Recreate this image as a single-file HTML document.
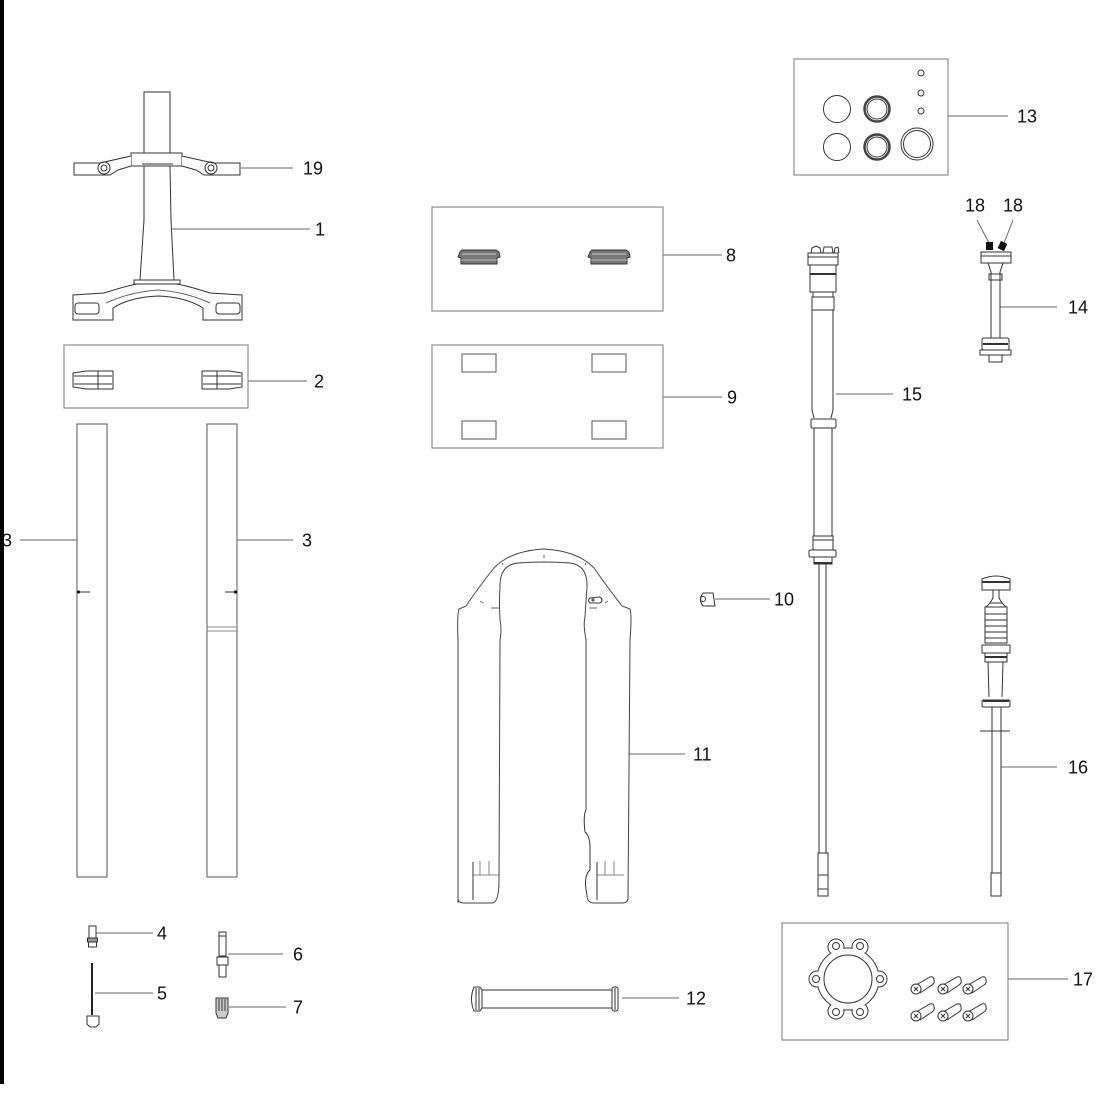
<!DOCTYPE html>
<html><head><meta charset="utf-8"><style>
html,body{margin:0;padding:0;background:#fff;}
svg{display:block;}
text{font-family:"Liberation Sans",Arial,sans-serif;font-size:18px;fill:#111;}
</style></head><body>
<svg width="1099" height="1099" viewBox="0 0 1099 1099" xmlns="http://www.w3.org/2000/svg">
<rect x="0" y="0" width="1099" height="1099" fill="#fff"/>
<rect x="0" y="0" width="4" height="1084" fill="#000"/>

<!-- leaders -->
<g stroke="#666" stroke-width="1" fill="none">
<line x1="241" y1="168" x2="293" y2="168"/>
<line x1="172" y1="229" x2="310" y2="229"/>
<line x1="248" y1="381" x2="307" y2="381"/>
<line x1="20" y1="540" x2="77" y2="540"/>
<line x1="237" y1="540" x2="293" y2="540"/>
<line x1="96" y1="933" x2="153" y2="933"/>
<line x1="95" y1="993" x2="153" y2="993"/>
<line x1="228" y1="954" x2="283" y2="954"/>
<line x1="229" y1="1007" x2="286" y2="1007"/>
<line x1="663" y1="255" x2="722" y2="255"/>
<line x1="663" y1="397" x2="722" y2="397"/>
<line x1="715" y1="599" x2="770" y2="599"/>
<line x1="629" y1="754" x2="685" y2="754"/>
<line x1="622" y1="998" x2="679" y2="998"/>
<line x1="948" y1="116" x2="1008" y2="116"/>
<line x1="1000" y1="307" x2="1057" y2="307"/>
<line x1="977" y1="220" x2="989" y2="243"/>
<line x1="1013" y1="220" x2="1004" y2="243"/>
<line x1="836" y1="394" x2="893" y2="394"/>
<line x1="1001" y1="767" x2="1057" y2="767"/>
<line x1="1008" y1="979" x2="1068" y2="979"/>
</g>

<!-- labels -->
<g>
<text x="303" y="174.5">19</text>
<text x="315" y="235.5">1</text>
<text x="314" y="387.5">2</text>
<text x="2" y="546.5">3</text>
<text x="302" y="546.5">3</text>
<text x="157" y="939.5">4</text>
<text x="157" y="999.5">5</text>
<text x="293" y="960.5">6</text>
<text x="293" y="1013.5">7</text>
<text x="726" y="261.5">8</text>
<text x="727" y="403.5">9</text>
<text x="774" y="605.5">10</text>
<text x="693" y="760.5">11</text>
<text x="686" y="1004.5">12</text>
<text x="1017" y="122.5">13</text>
<text x="1068" y="313.5">14</text>
<text x="965" y="211.5">18</text>
<text x="1003" y="211.5">18</text>
<text x="902" y="400.5">15</text>
<text x="1068" y="773.5">16</text>
<text x="1073" y="985.5">17</text>
</g>

<g stroke="#333" stroke-width="1" fill="none">
<!-- Part 1 -->
<rect x="144" y="92" width="26" height="61"/>
<path d="M131,153 L182,153 L182,166 L131,166 Z" fill="#fff"/>
<line x1="142" y1="164" x2="173" y2="164"/>
<path d="M131,156 L100,163 L74,163 L74,175 L110,175 L118,170 L131,166" fill="#fff"/>
<path d="M182,156 L213,163 L240,163 L240,175 L204,175 L196,170 L182,166" fill="#fff"/>
<circle cx="104" cy="168" r="6"/><circle cx="104" cy="168" r="3"/>
<circle cx="211" cy="168" r="6"/><circle cx="211" cy="168" r="3"/>
<path d="M144,166 L144,220 L140,280"/>
<path d="M170,166 L171,220 L174,280"/>
<rect x="134" y="280" width="46" height="4"/>
<path d="M73,295 L73,320 L113,320 L113,308 Q130,297 158,296 Q186,297 203,308 L203,320 L242,320 L242,295 L210,293 Q185,285 176,284 L138,284 Q129,285 104,293 Z" fill="#fff"/>
<path d="M106,303 Q130,292 158,290 Q186,292 210,303" stroke="#666"/>
<rect x="75" y="303" width="24" height="11" rx="3"/>
<rect x="216" y="303" width="24" height="11" rx="3"/>

<!-- Part 2 -->
<rect x="64" y="345" width="184" height="63" stroke="#777"/>
<path d="M73,373 L86,371 L113,371 L113,389 L86,389 L73,387 Z"/>
<line x1="74" y1="376" x2="112" y2="376"/><line x1="74" y1="384" x2="112" y2="384"/>
<line x1="98" y1="371" x2="98" y2="389"/>
<path d="M242,373 L229,371 L202,371 L202,389 L229,389 L242,387 Z"/>
<line x1="203" y1="376" x2="241" y2="376"/><line x1="203" y1="384" x2="241" y2="384"/>
<line x1="217" y1="371" x2="217" y2="389"/>

<!-- Part 3 -->
<rect x="77" y="424" width="30" height="453" stroke="#555"/>
<rect x="207" y="424" width="30" height="453" stroke="#555"/>
<line x1="207" y1="627" x2="237" y2="627" stroke="#888"/>
<line x1="207" y1="631" x2="237" y2="631" stroke="#888"/>
<line x1="78" y1="592" x2="90" y2="592"/>
<line x1="225" y1="592" x2="236" y2="592"/>
</g>
<circle cx="78.5" cy="592" r="1.5" fill="#000"/>
<circle cx="235.5" cy="592" r="1.5" fill="#000"/>

<g stroke="#333" stroke-width="1" fill="none">
<!-- Part 4 -->
<rect x="89" y="926" width="7" height="12"/>
<rect x="87.5" y="938" width="10" height="4" fill="#999"/>
<rect x="88.5" y="942" width="8" height="5"/>
<!-- Part 5 -->
<line x1="92" y1="963" x2="92" y2="1015" stroke="#222" stroke-width="2"/>
<path d="M87,1016 L99,1016 L99,1024 L96,1027 L90,1027 L87,1024 Z"/>
<!-- Part 6 -->
<rect x="219" y="932" width="7" height="4"/>
<rect x="219" y="936" width="7" height="20"/>
<rect x="217" y="957" width="11" height="8"/>
<rect x="219" y="965" width="7" height="12"/>
<!-- Part 7 -->
<path d="M216,998 L228,998 L228,1013 L226,1018 L218,1018 L216,1013 Z" fill="#ccc"/>
<line x1="219" y1="999" x2="219" y2="1011"/><line x1="222" y1="999" x2="222" y2="1011"/><line x1="225" y1="999" x2="225" y2="1011"/>

<!-- Part 8 -->
<rect x="432" y="207" width="231" height="104" stroke="#777"/>
<path d="M460,252 L462,250 L496,250 L499,252 L500,257 L497,258 L497,264 L461,264 L461,258 L458,257 Z" fill="#777"/>
<line x1="462" y1="254" x2="496" y2="254" stroke="#ccc"/>
<line x1="461" y1="260" x2="497" y2="260" stroke="#bbb"/>
<path d="M590,252 L592,250 L626,250 L629,252 L630,257 L627,258 L627,264 L591,264 L591,258 L588,257 Z" fill="#777"/>
<line x1="592" y1="254" x2="626" y2="254" stroke="#ccc"/>
<line x1="591" y1="260" x2="627" y2="260" stroke="#bbb"/>

<!-- Part 9 -->
<rect x="432" y="345" width="231" height="103" stroke="#777"/>
<rect x="462" y="354" width="34" height="18" stroke="#555"/>
<rect x="592" y="354" width="34" height="18" stroke="#555"/>
<rect x="462" y="421" width="34" height="18" stroke="#555"/>
<rect x="592" y="421" width="34" height="18" stroke="#555"/>

<!-- Part 10 -->
<path d="M703,593 L713,593 L715,606 L703,606 Q698,600 703,593 Z"/>
<circle cx="703" cy="599" r="2.5"/>

<!-- Part 11 -->
<path d="M458,903 L458,640 Q457,615 459,609 L466,606 Q478,588 494,568 Q510,551 544,549 Q578,551 594,568 Q608,588 622,606 L630,609 Q632,615 630,640 L628,898 Q628,903 622,903 L594,903 Q587,903 587,895" stroke="#444"/>
<path d="M500,620 Q499,600 500,588 Q499,565 518,563 Q544,561 570,563 Q588,565 587,588 Q586,600 585,617 Q583,624 586,640 L586,810" stroke="#444"/>
<path d="M500,620 Q502,628 500,640 L499,880 Q499,903 492,903 L464,903 Q458,903 458,898" stroke="#444"/>
<path d="M586,810 Q583,815 585,832 Q589,835 590,845 L590,870 Q584,875 586,890 L587,895"/>
<line x1="473" y1="875" x2="500" y2="875" stroke="#888"/>
<line x1="473" y1="862" x2="473" y2="900"/>
<line x1="480" y1="861" x2="480" y2="875" stroke="#888"/>
<line x1="489" y1="861" x2="489" y2="875" stroke="#888"/>
<line x1="597" y1="875" x2="624" y2="875" stroke="#888"/>
<line x1="597" y1="862" x2="597" y2="900"/>
<line x1="605" y1="861" x2="605" y2="875" stroke="#888"/>
<line x1="614" y1="861" x2="614" y2="875" stroke="#888"/>
<path d="M590,598 L600,597 Q604,600 600,603 L590,603 Q587,600 590,598 Z"/>
<circle cx="593" cy="600" r="1"/>
<line x1="480" y1="601" x2="483" y2="603" stroke="#666"/>
<line x1="608" y1="601" x2="605" y2="603" stroke="#666"/>
<line x1="491" y1="608" x2="499" y2="608" stroke="#666"/>
<line x1="589" y1="608" x2="597" y2="608" stroke="#666"/>
<line x1="544" y1="555" x2="544" y2="558" stroke="#666"/>
<line x1="502" y1="563" x2="503" y2="565" stroke="#666"/>
<line x1="586" y1="563" x2="585" y2="565" stroke="#666"/>

<!-- Part 12 -->
<path d="M474,987 L480,987 L482,990 L482,1008 L480,1011 L474,1011 Q469,999 474,987 Z"/>
<line x1="476" y1="988" x2="476" y2="1010"/><line x1="479" y1="988" x2="479" y2="1010"/>
<rect x="482" y="990" width="130" height="18"/>
<rect x="612" y="987" width="6" height="24" rx="2"/>
<line x1="615" y1="988" x2="615" y2="1010"/>

<!-- Part 13 -->
<rect x="794" y="59" width="154" height="116" stroke="#777"/>
<circle cx="837" cy="109" r="13.5"/>
<circle cx="877" cy="109" r="12.5" stroke-width="2.5" stroke="#444"/>
<circle cx="877" cy="109" r="10"/>
<circle cx="837" cy="147" r="13.5"/>
<circle cx="877" cy="147" r="12.5" stroke-width="2.5" stroke="#444"/>
<circle cx="877" cy="147" r="10"/>
<circle cx="917" cy="144" r="16"/>
<circle cx="917" cy="144" r="13.5"/>
<circle cx="921" cy="73" r="3"/>
<circle cx="921" cy="93" r="3"/>
<circle cx="921" cy="111" r="3"/>

<!-- Part 14 -->
<rect x="981" y="252" width="30" height="11" fill="#fff"/>
<line x1="981" y1="256" x2="1011" y2="256"/>
<path d="M988,263 L1003,263 L1000,272 L1000,280 L991,280 L991,272 Z"/>
<rect x="989" y="274" width="13" height="6"/>
<line x1="991" y1="280" x2="991" y2="338"/>
<line x1="1000" y1="280" x2="1000" y2="338"/>
<rect x="982" y="338" width="27" height="12" rx="2"/>
<line x1="983" y1="344" x2="1008" y2="344" stroke-width="2"/>
<rect x="980" y="350" width="31" height="5"/>
<rect x="989" y="355" width="13" height="7"/>

<!-- Part 15 -->
<path d="M811,253 L812,248 L816,246 L820,248 L821,253 M823,253 L824,247 L832,247 L833,253 M834,253 L835,248 L838,247 L839,253"/>
<rect x="808" y="253" width="30" height="12" fill="#fff"/>
<line x1="808" y1="257" x2="838" y2="257"/>
<rect x="810" y="265" width="26" height="27"/>
<line x1="810" y1="274" x2="836" y2="274" stroke-width="2"/>
<rect x="813" y="292" width="20" height="5"/>
<rect x="812" y="297" width="22" height="13"/>
<path d="M812,310 L812,410 L814,418 M833,310 L833,410 L831,418"/>
<rect x="811" y="419" width="25" height="9" rx="1.5"/>
<rect x="814" y="428" width="18" height="108"/>
<rect x="813" y="536" width="20" height="14"/>
<line x1="813" y1="540" x2="833" y2="540"/>
<rect x="809" y="550" width="27" height="7" rx="1.5"/>
<rect x="814" y="557" width="18" height="7"/>
<line x1="814" y1="563" x2="832" y2="563" stroke-width="2"/>
<line x1="819" y1="564" x2="819" y2="853"/>
<line x1="826" y1="564" x2="826" y2="853"/>
<rect x="818" y="853" width="10" height="43"/>
<line x1="818" y1="875" x2="828" y2="875"/>
<line x1="818" y1="889" x2="828" y2="889"/>

<!-- Part 16 -->
<path d="M982,579 Q996,573 1010,579 L1010,590 L982,590 Z" fill="#fff"/>
<line x1="982" y1="582" x2="1010" y2="582" stroke-width="2"/>
<path d="M993,590 L993,598 L990,603 L1002,603 L999,598 L999,590"/>
<path d="M990,603 L986,607 L1006,607 L1002,603"/>
<rect x="985" y="607" width="22" height="36"/>
<line x1="985" y1="614" x2="1007" y2="614"/>
<line x1="985" y1="620" x2="1007" y2="620"/>
<line x1="985" y1="626" x2="1007" y2="626"/>
<line x1="985" y1="632" x2="1007" y2="632"/>
<line x1="985" y1="638" x2="1007" y2="638"/>
<rect x="982" y="645" width="28" height="8"/>
<rect x="985" y="653" width="22" height="9"/>
<line x1="985" y1="657" x2="1007" y2="657" stroke-width="2"/>
<path d="M988,662 L989,697 M1003,662 L1002,697"/>
<rect x="982" y="700" width="28" height="7" rx="1.5"/>
<line x1="983" y1="701" x2="1009" y2="701" stroke-width="2"/>
<line x1="992" y1="707" x2="992" y2="873"/>
<line x1="1001" y1="707" x2="1001" y2="873"/>
<line x1="980" y1="731" x2="1010" y2="731"/>
<rect x="991" y="873" width="10" height="23"/>

<!-- Part 17 -->
<rect x="782" y="923" width="226" height="117" stroke="#777"/>
<g>
<circle cx="836" cy="947" r="8"/><circle cx="860" cy="947" r="8"/>
<circle cx="817" cy="979" r="8"/><circle cx="879" cy="979" r="8"/>
<circle cx="836" cy="1011" r="8"/><circle cx="860" cy="1011" r="8"/>
<circle cx="848" cy="979" r="31" fill="#fff"/>
<g stroke="none" fill="#fff">
<circle cx="836" cy="947" r="7.4"/><circle cx="860" cy="947" r="7.4"/>
<circle cx="817" cy="979" r="7.4"/><circle cx="879" cy="979" r="7.4"/>
<circle cx="836" cy="1011" r="7.4"/><circle cx="860" cy="1011" r="7.4"/>
</g>
<circle cx="836" cy="946" r="3.5"/><circle cx="860" cy="946" r="3.5"/>
<circle cx="816" cy="979" r="3.5"/><circle cx="880" cy="979" r="3.5"/>
<circle cx="836" cy="1012" r="3.5"/><circle cx="860" cy="1012" r="3.5"/>
<circle cx="848" cy="979" r="24"/>
</g>
<g id="b1">
<path d="M916,985 L930,977 Q934,976 934,980 Q935,983 932,985 L920,993"/>
<circle cx="916" cy="989" r="5" fill="#fff"/>
<path d="M914,987 L918,991 M918,987 L914,991"/>
</g>
<g transform="translate(27,0)"><path d="M916,985 L930,977 Q934,976 934,980 Q935,983 932,985 L920,993"/><circle cx="916" cy="989" r="5" fill="#fff"/><path d="M914,987 L918,991 M918,987 L914,991"/></g>
<g transform="translate(52,0)"><path d="M916,985 L930,977 Q934,976 934,980 Q935,983 932,985 L920,993"/><circle cx="916" cy="989" r="5" fill="#fff"/><path d="M914,987 L918,991 M918,987 L914,991"/></g>
<g transform="translate(0,27)"><path d="M916,985 L930,977 Q934,976 934,980 Q935,983 932,985 L920,993"/><circle cx="916" cy="989" r="5" fill="#fff"/><path d="M914,987 L918,991 M918,987 L914,991"/></g>
<g transform="translate(27,27)"><path d="M916,985 L930,977 Q934,976 934,980 Q935,983 932,985 L920,993"/><circle cx="916" cy="989" r="5" fill="#fff"/><path d="M914,987 L918,991 M918,987 L914,991"/></g>
<g transform="translate(52,27)"><path d="M916,985 L930,977 Q934,976 934,980 Q935,983 932,985 L920,993"/><circle cx="916" cy="989" r="5" fill="#fff"/><path d="M914,987 L918,991 M918,987 L914,991"/></g>
</g>

<!-- Part 18 knobs -->
<rect x="986" y="242" width="7" height="8" fill="#111"/>
<rect x="999" y="242" width="7" height="8" fill="#111" transform="rotate(25 1002.5 246)"/>
</svg>
</body></html>
